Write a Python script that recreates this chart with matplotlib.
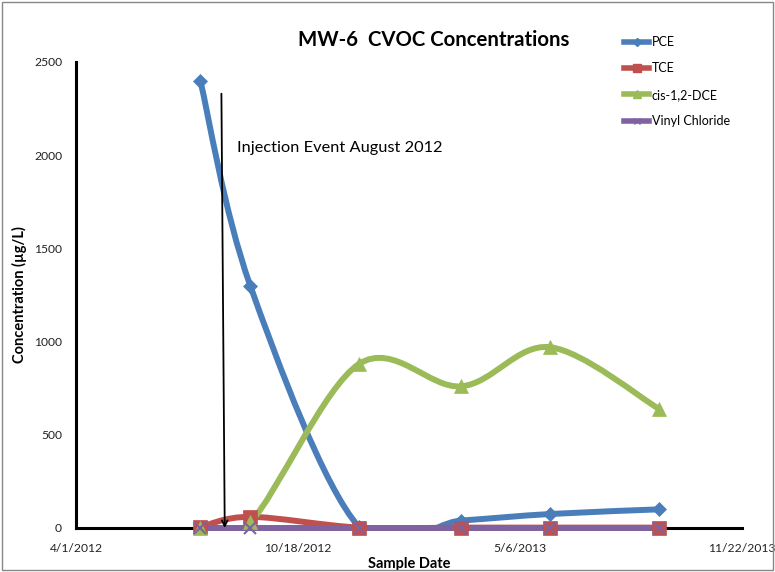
import numpy as np
import matplotlib
matplotlib.use("Agg")
import matplotlib.pyplot as plt
import matplotlib.dates as mdates
from matplotlib.path import Path
from matplotlib.patches import PathPatch, Rectangle
from matplotlib.lines import Line2D
from matplotlib.ticker import FuncFormatter

plt.rcParams['font.family'] = ['Lato', 'DejaVu Sans']

# data
sample_dates = ['2012-07-22', '2012-09-05', '2012-12-12', '2013-03-14', '2013-06-02', '2013-09-08']
pce = [2400, 1300, 5, 40, 75, 100]
tce = [5, 60, 2, 2, 2, 2]
dce = [0, 30, 880, 760, 970, 640]
vc = [0, 0, 0, 0, 0, 0]

series_names = ['PCE', 'TCE', 'cis-1,2-DCE', 'Vinyl Chloride']
series_values = [pce, tce, dce, vc]
colors = ['#4A7EBB', '#C0504D', '#9BBB59', '#7F62A0']
markers = ['D', 's', '^', 'x']
msizes = [7, 10, 10, 8]

tick_dates = ['2012-04-01', '2012-10-18', '2013-05-06', '2013-11-22']
y_ticks = [0, 500, 1000, 1500, 2000, 2500]

x = mdates.date2num(np.array(sample_dates, dtype='datetime64[D]'))


def smooth_path(xs, ys):
    # Catmull-Rom style bezier smoothing (like Excel's smoothed line)
    pts = np.column_stack([xs, ys])
    n = len(pts)
    verts = [pts[0]]
    codes = [Path.MOVETO]
    for i in range(n - 1):
        p0 = pts[i - 1] if i > 0 else pts[i]
        p1 = pts[i]
        p2 = pts[i + 1]
        p3 = pts[i + 2] if i + 2 < n else pts[i + 1]
        c1 = p1 + (p2 - p0) / 6.0
        c2 = p2 - (p3 - p1) / 6.0
        verts += [c1, c2, p2]
        codes += [Path.CURVE4] * 3
    return Path(verts, codes)


fig = plt.figure(figsize=(7.75, 5.72), dpi=100)
ax = fig.add_axes([76 / 775, 1 - 528 / 572, 666 / 775, 466 / 572])

# clip region a little below the axis so lines at zero stay visible
clip = Rectangle((0, -0.007), 1, 1.007, transform=ax.transAxes, visible=False)
ax.add_patch(clip)

for name, vals, c, m, ms in zip(series_names, series_values, colors, markers, msizes):
    patch = PathPatch(smooth_path(x, vals), facecolor='none', edgecolor=c, lw=4.3,
                      capstyle='round', joinstyle='round', zorder=3)
    ax.add_patch(patch)
    patch.set_clip_path(clip)
    ax.plot(x, vals, linestyle='none', marker=m, markersize=ms, color=c,
            markeredgewidth=1.5 if m == 'x' else 0.5, clip_on=False, zorder=4)

ax.set_xlim(mdates.date2num(np.datetime64(tick_dates[0])), mdates.date2num(np.datetime64(tick_dates[-1])))
ax.set_ylim(0, 2500)
ax.set_xticks(mdates.date2num(np.array(tick_dates, dtype='datetime64[D]')))
ax.set_yticks(y_ticks)


def fmt_date(v, pos):
    d = mdates.num2date(v)
    return f"{d.month}/{d.day}/{d.year}"


ax.xaxis.set_major_formatter(FuncFormatter(fmt_date))
ax.tick_params(length=0, labelsize=8.7, colors='#222222')
ax.tick_params(axis='y', pad=10)
ax.tick_params(axis='x', pad=11)

for s in ['top', 'right']:
    ax.spines[s].set_visible(False)
for s in ['left', 'bottom']:
    ax.spines[s].set_linewidth(2.2)
    ax.spines[s].set_color('black')
    ax.spines[s].set_zorder(2)

ax.set_xlabel('Sample Date', fontsize=10.5, fontweight='bold', labelpad=2)
ax.set_ylabel('Concentration (µg/L)', fontsize=10.5, fontweight='bold', labelpad=5)

fig.text(434 / 775, 1 - 40 / 572, 'MW-6  CVOC Concentrations', fontsize=14.7,
         fontweight='bold', ha='center', va='center')

# injection event arrow
ax.annotate('', xy=(mdates.date2num(np.datetime64('2012-08-13')), 0),
            xytext=(mdates.date2num(np.datetime64('2012-08-10')), 2330),
            arrowprops=dict(arrowstyle='->', color='black', lw=1.3,
                            mutation_scale=10, shrinkA=0, shrinkB=0), zorder=5)
ax.text(mdates.date2num(np.datetime64('2012-08-24')), 2040, 'Injection Event August 2012',
        fontsize=11.8, ha='left', va='center')

handles = [Line2D([], [], color=c, lw=4, marker=m, markersize=ms * 0.6)
           for c, m, ms in zip(colors, markers, msizes)]
fig.legend(handles, series_names, loc='upper left', bbox_to_anchor=(624 / 775, 1 - 36 / 572),
           frameon=False, fontsize=9, handlelength=2.0, handletextpad=0.2,
           labelspacing=1.15, borderpad=0, borderaxespad=0)

fig.patches.append(Rectangle((0.003, 0.003), 0.994, 0.994, transform=fig.transFigure,
                             fill=False, edgecolor='#888888', lw=1))

fig.savefig('out.png', dpi=100)
